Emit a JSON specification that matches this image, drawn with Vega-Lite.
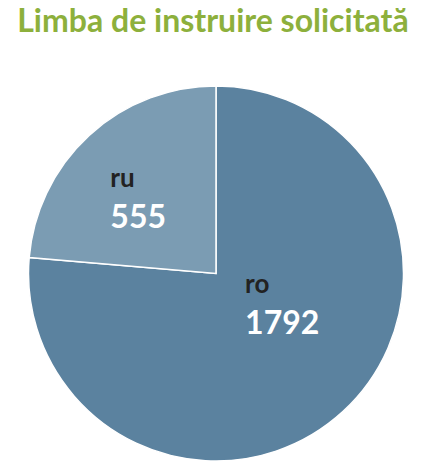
{
  "$schema": "https://vega.github.io/schema/vega-lite/v6.json",
  "autosize": "none",
  "width": 422,
  "height": 375,
  "padding": {"left": 5, "right": 0, "top": 86, "bottom": 0},
  "background": "white",
  "view": {"stroke": null},
  "title": {
    "text": "Limba de instruire solicitată",
    "font": "Lato",
    "fontSize": 32,
    "fontWeight": "bold",
    "color": "#8db03c",
    "anchor": "middle",
    "dx": -3,
    "offset": 44
  },
  "data": {"values": [
    {"lang": "ro", "count": 1792},
    {"lang": "ru", "count": 555}
  ]},
  "encoding": {
    "theta": {"field": "count", "type": "quantitative", "stack": true},
    "color": {"field": "lang", "type": "nominal", "scale": {"domain": ["ro", "ru"], "range": ["#5b829f", "#7b9cb3"]}, "legend": null},
    "order": {"field": "lang", "sort": "ascending"}
  },
  "layer": [
    {"mark": {"type": "arc", "outerRadius": 187.5, "stroke": "white", "strokeWidth": 1.5}},
    {"mark": {"type": "text", "radius": 43, "align": "left", "baseline": "middle", "dy": -20, "font": "Lato", "fontSize": 26, "fontWeight": "bold"},
     "encoding": {"text": {"condition": {"test": "datum.lang === 'ro'", "field": "lang"}, "value": ""}, "color": {"value": "#222222"}}},
    {"mark": {"type": "text", "radius": 43, "align": "left", "baseline": "middle", "dy": 19, "font": "Lato", "fontSize": 32, "fontWeight": "bold"},
     "encoding": {"text": {"condition": {"test": "datum.lang === 'ro'", "field": "count"}, "value": ""}, "color": {"value": "white"}}},
    {"mark": {"type": "text", "radius": 103, "align": "left", "baseline": "middle", "dx": -36, "dy": -19, "font": "Lato", "fontSize": 26, "fontWeight": "bold"},
     "encoding": {"text": {"condition": {"test": "datum.lang === 'ru'", "field": "lang"}, "value": ""}, "color": {"value": "#222222"}}},
    {"mark": {"type": "text", "radius": 103, "align": "left", "baseline": "middle", "dx": -36, "dy": 20, "font": "Lato", "fontSize": 32, "fontWeight": "bold"},
     "encoding": {"text": {"condition": {"test": "datum.lang === 'ru'", "field": "count"}, "value": ""}, "color": {"value": "white"}}}
  ]
}
